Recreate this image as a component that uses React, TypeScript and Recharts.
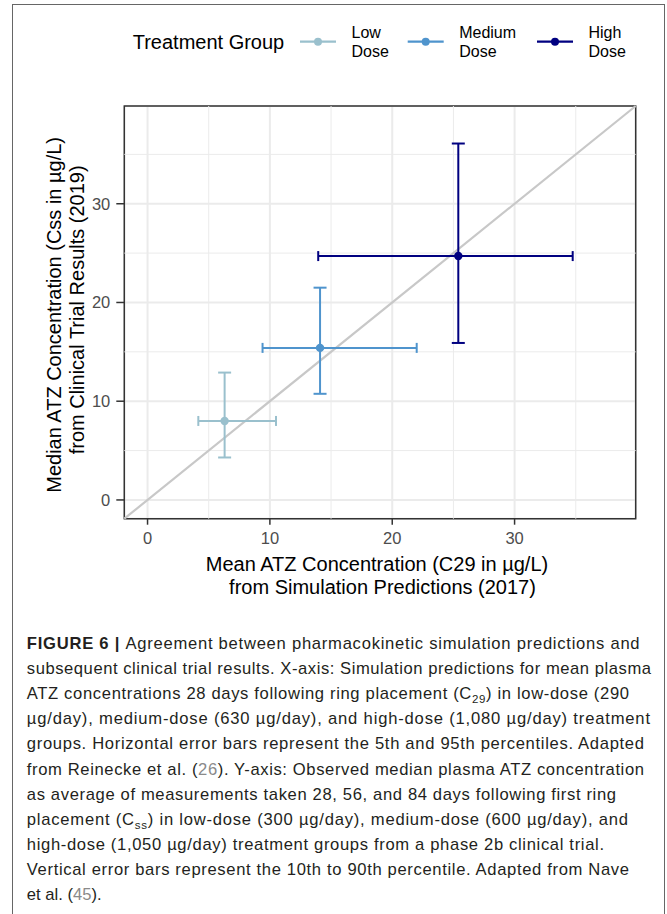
import React from 'react';
import {
  ScatterChart,
  Scatter,
  XAxis,
  YAxis,
  CartesianGrid,
  ErrorBar,
  ReferenceLine,
  ReferenceArea,
} from 'recharts';

const FONT = '"Liberation Sans", Arial, Helvetica, sans-serif';

const groups = ['Low Dose', 'Medium Dose', 'High Dose'];
const colors = ['#9AC0CD', '#4F94CD', '#000080'];

// simulation predictions (x): mean, 5th and 95th percentiles
const simMean = [6.3, 14.1, 25.4];
const simP5 = [4.15, 9.4, 13.95];
const simP95 = [10.5, 22.0, 34.75];

// clinical trial (y): median, 10th and 90th percentiles
const trialMedian = [8.0, 15.4, 24.7];
const trialP10 = [4.3, 10.75, 15.9];
const trialP90 = [12.9, 21.5, 36.1];

const majorTicks = [0, 10, 20, 30];
const minorTicks = [5, 15, 25, 35];
const axisDomain: [number, number] = [-1.9, 39.9];

const series = groups.map((name, i) => ({
  name,
  color: colors[i],
  data: [
    {
      x: simMean[i],
      y: trialMedian[i],
      ex: [simMean[i] - simP5[i], simP95[i] - simMean[i]],
      ey: [trialMedian[i] - trialP10[i], trialP90[i] - trialMedian[i]],
    },
  ],
}));

// caption, one entry per printed line
type Seg = { t: string; bold?: boolean; sub?: boolean; ref?: boolean };
const captionLines: Seg[][] = [
  [{ t: 'FIGURE 6 | ', bold: true }, { t: 'Agreement between pharmacokinetic simulation predictions and' }],
  [{ t: 'subsequent clinical trial results. X-axis: Simulation predictions for mean plasma' }],
  [{ t: 'ATZ concentrations 28 days following ring placement (C' }, { t: '29', sub: true }, { t: ') in low-dose (290' }],
  [{ t: 'µg/day), medium-dose (630 µg/day), and high-dose (1,080 µg/day) treatment' }],
  [{ t: 'groups. Horizontal error bars represent the 5th and 95th percentiles. Adapted' }],
  [{ t: 'from Reinecke et al. (' }, { t: '26', ref: true }, { t: '). Y-axis: Observed median plasma ATZ concentration' }],
  [{ t: 'as average of measurements taken 28, 56, and 84 days following first ring' }],
  [{ t: 'placement (C' }, { t: 'ss', sub: true }, { t: ') in low-dose (300 µg/day), medium-dose (600 µg/day), and' }],
  [{ t: 'high-dose (1,050 µg/day) treatment groups from a phase 2b clinical trial.' }],
  [{ t: 'Vertical error bars represent the 10th to 90th percentile. Adapted from Nave' }],
  [{ t: 'et al. (' }, { t: '45', ref: true }, { t: ').' }],
];
const captionEnds = [639.6, 651, 629, 650, 644, 644, 616, 628, 604, 629, 0];

const XTitle = (props: any) => {
  const { viewBox } = props;
  const cx = viewBox.x + viewBox.width / 2;
  return (
    <text fontSize={20} fill="#000" textAnchor="middle" fontFamily={FONT}>
      <tspan x={cx - 3} y={viewBox.y + 52.3}>Mean ATZ Concentration (C29 in µg/L)</tspan>
      <tspan x={cx + 2.5} y={viewBox.y + 75.5}>from Simulation Predictions (2017)</tspan>
    </text>
  );
};

const YTitle = (props: any) => {
  const { viewBox } = props;
  const cy = viewBox.y + viewBox.height / 2;
  return (
    <g fontSize={20} fill="#000" fontFamily={FONT}>
      <text x={61.5} y={cy + 2.5} textAnchor="middle" transform={`rotate(-90, 61.5, ${cy + 2.5})`}>
        Median ATZ Concentration (Css in µg/L)
      </text>
      <text x={84} y={cy - 2.5} textAnchor="middle" transform={`rotate(-90, 84, ${cy - 2.5})`}>
        from Clinical Trial Results (2019)
      </text>
    </g>
  );
};

const legendX = [300, 407.7, 537];

function LegendBox() {
  return (
    <svg width={667} height={100} style={{ position: 'absolute', left: 0, top: 0 }} fontFamily={FONT}>
      <text x={132.7} y={48.5} fontSize={20} fill="#000">Treatment Group</text>
      {series.map((s, i) => {
        const x = legendX[i];
        const [first, second] = s.name.split(' ');
        return (
          <g key={s.name}>
            <line x1={x} x2={x + 36} y1={41.7} y2={41.7} stroke={s.color} strokeWidth={2.2} />
            <circle cx={x + 18} cy={41.7} r={4} fill={s.color} />
            <text x={x + 51.5} fontSize={16} fill="#000">
              <tspan x={x + 51.5} y={37.7}>{first}</tspan>
              <tspan x={x + 51.5} y={56.7}>{second}</tspan>
            </text>
          </g>
        );
      })}
    </svg>
  );
}

function Caption() {
  return (
    <svg width={667} height={914} style={{ position: 'absolute', left: 0, top: 0 }} fontFamily={FONT}>
      {captionLines.map((segs, i) => {
        const extra = captionEnds[i] ? { textLength: captionEnds[i] - 26.8, lengthAdjust: 'spacing' } : {};
        let shifted = false;
        return (
          <text key={i} x={26.8} y={649 + i * 25.1} fontSize={16.6} fill="#231f20" {...extra}>
            {segs.map((s, j) => {
              let dy = 0;
              if (s.sub) {
                dy = 4;
                shifted = true;
              } else if (shifted) {
                dy = -4;
                shifted = false;
              }
              return (
                <tspan
                  key={j}
                  dy={dy || undefined}
                  fontWeight={s.bold ? 'bold' : undefined}
                  fontSize={s.sub ? 11.5 : undefined}
                  fill={s.ref ? '#8a8a8a' : undefined}
                >
                  {s.t}
                </tspan>
              );
            })}
          </text>
        );
      })}
    </svg>
  );
}

export default function App() {
  return (
    <div
      style={{
        position: 'absolute',
        left: 0,
        top: 0,
        width: 667,
        height: 914,
        overflow: 'hidden',
        background: '#fff',
        fontFamily: FONT,
      }}
    >
      <div
        style={{
          position: 'absolute',
          left: 11.5,
          top: 4,
          width: 653,
          height: 920,
          boxSizing: 'border-box',
          border: '1.5px solid #666',
        }}
      />
      <div style={{ position: 'absolute', left: 0, top: 0 }}>
        <ScatterChart width={667} height={620} margin={{ top: 106, right: 31.3, bottom: 0, left: 0 }}>
          <CartesianGrid stroke="#ebebeb" strokeWidth={2} />
          {minorTicks.map((v) => (
            <ReferenceLine key={`vx${v}`} x={v} stroke="#ebebeb" strokeWidth={1} />
          ))}
          {minorTicks.map((v) => (
            <ReferenceLine key={`hy${v}`} y={v} stroke="#ebebeb" strokeWidth={1} />
          ))}
          <XAxis
            type="number"
            dataKey="x"
            domain={axisDomain}
            ticks={majorTicks}
            allowDataOverflow
            axisLine={false}
            tickLine={{ stroke: '#333', strokeWidth: 1.5 }}
            tickSize={6}
            tickMargin={8}
            tick={{ fill: '#4d4d4d', fontSize: 16.5, fontFamily: FONT }}
            height={101.3}
            label={{ content: XTitle }}
          />
          <YAxis
            type="number"
            dataKey="y"
            domain={axisDomain}
            ticks={majorTicks}
            allowDataOverflow
            axisLine={false}
            tickLine={{ stroke: '#333', strokeWidth: 1.5 }}
            tickSize={8}
            tickMargin={6}
            tick={{ fill: '#4d4d4d', fontSize: 16.5, fontFamily: FONT }}
            width={124.3}
            label={{ content: YTitle }}
          />
          <ReferenceLine
            segment={[
              { x: axisDomain[0], y: axisDomain[0] },
              { x: axisDomain[1], y: axisDomain[1] },
            ]}
            stroke="#c8c8c8"
            strokeWidth={2.2}
          />
          {series.map((s) => (
            <Scatter
              key={s.name}
              name={s.name}
              data={s.data}
              fill={s.color}
              isAnimationActive={false}
              shape={(p: any) => <circle cx={p.cx} cy={p.cy} r={4.2} fill={s.color} />}
            >
              <ErrorBar dataKey="ex" direction="x" width={5} stroke={s.color} strokeWidth={2} />
              <ErrorBar dataKey="ey" direction="y" width={6.5} stroke={s.color} strokeWidth={2} />
            </Scatter>
          ))}
          <ReferenceArea
            x1={axisDomain[0]}
            x2={axisDomain[1]}
            y1={axisDomain[0]}
            y2={axisDomain[1]}
            fill="none"
            fillOpacity={0}
            stroke="#333"
            strokeWidth={1.5}
          />
        </ScatterChart>
      </div>
      <LegendBox />
      <Caption />
    </div>
  );
}
